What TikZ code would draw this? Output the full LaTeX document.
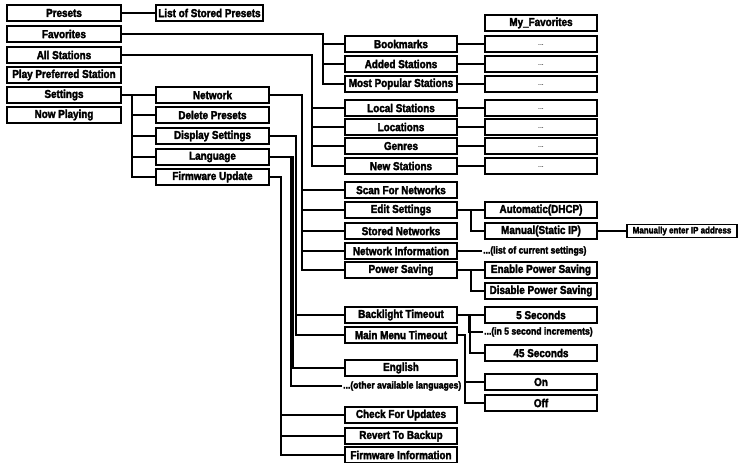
\documentclass[tikz,border=0pt]{standalone}
\usepackage{fontspec}
\setmainfont{Liberation Sans}[FakeStretch=0.86,BoldFeatures={FakeBold=2.5}]
\usetikzlibrary{positioning}

\begin{document}
\begin{tikzpicture}[x=1pt,y=-1pt,
    menu/.style={draw, line width=1.9pt, minimum width=112pt, minimum height=15.5pt,
      inner sep=0pt, font=\fontsize{11.5}{12}\selectfont\bfseries},
    dots/.style={menu, font=\fontsize{8}{8}\selectfont},
    note/.style={inner sep=1pt, anchor=west, font=\fontsize{10}{11}\selectfont\bfseries},
    link/.style={line width=1.2pt}]
  \useasboundingbox (0,0) rectangle (740,463);

  % main menu
  \node[menu, minimum width=114pt] (presets) at (64,13) {Presets};
  \node[menu, minimum width=114pt] (favorites) at (64,34) {Favorites};
  \node[menu, minimum width=114pt] (allst) at (64,55) {All Stations};
  \node[menu, minimum width=114pt] (preferred) at (64,75) {Play Preferred Station};
  \node[menu, minimum width=114pt] (settings) at (64,95) {Settings};
  \node[menu, minimum width=114pt] (nowplaying) at (64,115) {Now Playing};

  \node[menu, minimum width=107pt] (storedlist) at (209.5,13) {List of Stored Presets};

  % settings menu
  \node[menu, minimum width=113pt] (network) at (212.5,95) {Network};
  \node[menu, minimum width=113pt] (delpresets) at (212.5,115) {Delete Presets};
  \node[menu, minimum width=113pt] (display) at (212.5,136) {Display Settings};
  \node[menu, minimum width=113pt] (language) at (212.5,157) {Language};
  \node[menu, minimum width=113pt] (fwupdate) at (212.5,177) {Firmware Update};

  % favorites and stations
  \node[menu] (bookmarks) at (401,44) {Bookmarks};
  \node[menu] (added) at (401,64) {Added Stations};
  \node[menu] (popular) at (401,84) {Most Popular Stations};
  \node[menu] (local) at (401,108) {Local Stations};
  \node[menu] (locations) at (401,127) {Locations};
  \node[menu] (genres) at (401,146) {Genres};
  \node[menu] (newst) at (401,166) {New Stations};

  \node[menu] (myfav) at (541,23) {My\_Favorites};
  \foreach \n/\y in {dotsa/44,dotsb/64,dotsc/84,dotsd/108,dotse/127,dotsf/146,dotsg/166}
    \node[dots] (\n) at (541,\y) {\raisebox{-2pt}{...}};

  % network
  \node[menu] (scan) at (401,190) {Scan For Networks};
  \node[menu] (editset) at (401,210) {Edit Settings};
  \node[menu] (storednet) at (401,231) {Stored Networks};
  \node[menu] (netinfo) at (401,251) {Network Information};
  \node[menu] (powersave) at (401,270) {Power Saving};

  \node[menu] (auto) at (541,210) {Automatic(DHCP)};
  \node[menu] (manual) at (541,231) {Manual(Static IP)};
  \node[menu, minimum width=110pt, minimum height=13pt, font=\fontsize{9.3}{10}\selectfont\bfseries]
    (manualip) at (682,231) {Manually enter IP address};
  \node[note] (currset) at (482,251) {...(list of current settings)};
  \node[menu] (enable) at (541,270) {Enable Power Saving};
  \node[menu] (disable) at (541,291) {Disable Power Saving};

  % display
  \node[menu] (backlight) at (401,315) {Backlight Timeout};
  \node[menu] (mainmenu) at (401,335) {Main Menu Timeout};
  \node[menu] (fivesec) at (541,315) {5 Seconds};
  \node[note] (increments) at (483,332) {...(in 5 second increments)};
  \node[menu] (fortyfive) at (541,353) {45 Seconds};
  \node[menu] (on) at (541,382) {On};
  \node[menu] (off) at (541,403) {Off};

  % language
  \node[menu] (english) at (401,368) {English};
  \node[note] (otherlang) at (342,386) {...(other available languages)};

  % firmware
  \node[menu] (checkupd) at (401,415) {Check For Updates};
  \node[menu] (revert) at (401,436) {Revert To Backup};
  \node[menu] (fwinfo) at (401,455) {Firmware Information};

  % connectors
  \draw[link] (presets) -- (storedlist);
  \foreach \n in {bookmarks,added,popular}
    \draw[link] (favorites.east) -| ([xshift=-21pt]\n.west) -- (\n.west);
  \foreach \n in {local,locations,genres,newst}
    \draw[link] (allst.east) -| ([xshift=-32pt]\n.west) -- (\n.west);
  \foreach \n/\m in {bookmarks/dotsa,added/dotsb,popular/dotsc,local/dotsd,locations/dotse,genres/dotsf,newst/dotsg}
    \draw[link] (\n) -- (\m);

  \foreach \n in {network,delpresets,display,language,fwupdate}
    \draw[link] (settings.east) -| ([xshift=-23pt]\n.west) -- (\n.west);
  \foreach \n in {scan,editset,storednet,netinfo,powersave}
    \draw[link] (network.east) -| ([xshift=-42pt]\n.west) -- (\n.west);
  \foreach \n in {backlight,mainmenu}
    \draw[link] (display.east) -| ([xshift=-48pt]\n.west) -- (\n.west);
  \foreach \n in {english,otherlang}
    \draw[link] (language.east) -| ([xshift=-51pt]\n.west) -- (\n.west);
  \foreach \n in {checkupd,revert,fwinfo}
    \draw[link] (fwupdate.east) -| ([xshift=-63pt]\n.west) -- (\n.west);

  \foreach \n in {auto,manual}
    \draw[link] (editset.east) -| ([xshift=-13pt]\n.west) -- (\n.west);
  \draw[link] (manual) -- (manualip);
  \draw[link] (netinfo) -- (currset);
  \foreach \n in {enable,disable}
    \draw[link] (powersave.east) -| ([xshift=-13pt]\n.west) -- (\n.west);
  \foreach \n in {fivesec,increments,fortyfive}
    \draw[link] (backlight.east) -| ([xshift=-14pt]\n.west) -- (\n.west);
  \foreach \n in {on,off}
    \draw[link] (mainmenu.east) -| ([xshift=-19pt]\n.west) -- (\n.west);
\end{tikzpicture}
\end{document}
